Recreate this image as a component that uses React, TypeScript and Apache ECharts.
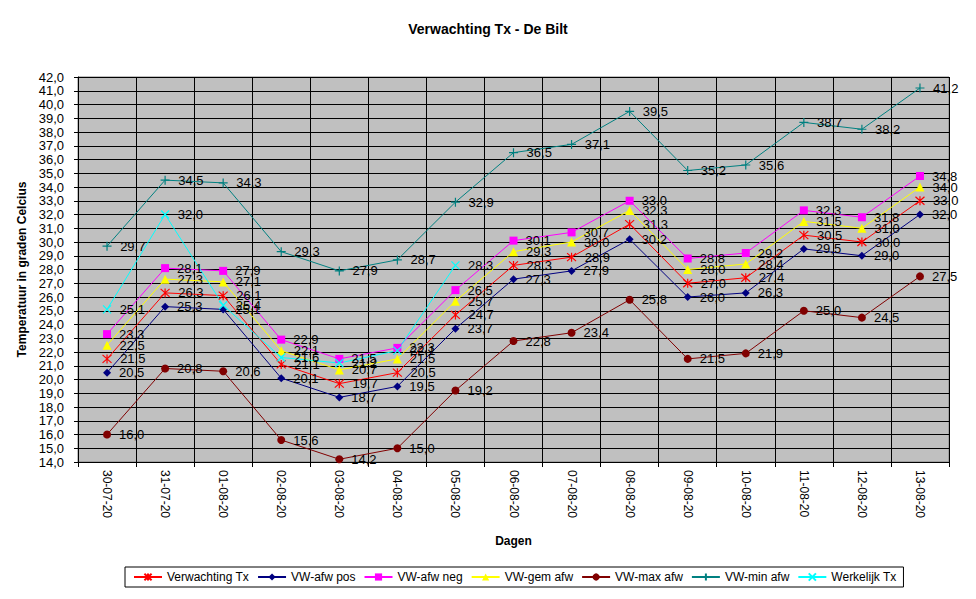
import React, { useEffect, useRef } from "react";
import * as echarts from "echarts";

const categories = [
  "30-07-20", "31-07-20", "01-08-20", "02-08-20", "03-08-20", "04-08-20", "05-08-20",
  "06-08-20", "07-08-20", "08-08-20", "09-08-20", "10-08-20", "11-08-20", "12-08-20", "13-08-20",
];

const verwachtingTx = [21.5, 26.3, 26.1, 21.1, 19.7, 20.5, 24.7, 28.3, 28.9, 31.3, 27.0, 27.4, 30.5, 30.0, 33.0];
const vwAfwPos = [20.5, 25.3, 25.1, 20.1, 18.7, 19.5, 23.7, 27.3, 27.9, 30.2, 26.0, 26.3, 29.5, 29.0, 32.0];
const vwAfwNeg = [23.3, 28.1, 27.9, 22.9, 21.5, 22.3, 26.5, 30.1, 30.7, 33.0, 28.8, 29.2, 32.3, 31.8, 34.8];
const vwGemAfw = [22.5, 27.3, 27.1, 22.1, 20.7, 21.5, 25.7, 29.3, 30.0, 32.3, 28.0, 28.4, 31.5, 31.0, 34.0];
const vwMaxAfw = [16.0, 20.8, 20.6, 15.6, 14.2, 15.0, 19.2, 22.8, 23.4, 25.8, 21.5, 21.9, 25.0, 24.5, 27.5];
const vwMinAfw = [29.7, 34.5, 34.3, 29.3, 27.9, 28.7, 32.9, 36.5, 37.1, 39.5, 35.2, 35.6, 38.7, 38.2, 41.2];
const werkelijkTx: (number | null)[] = [25.1, 32.0, 25.4, 21.6, 21.2, 22.1, 28.3, null, null, null, null, null, null, null, null];

const FONT = "'Liberation Sans', Arial, sans-serif";

const fmt = (v: number) => v.toFixed(1).replace(".", ",");

const ASTERISK = "path://M0,-5L0,5M-4.5,-4.5L4.5,4.5M-4.5,4.5L4.5,-4.5";
const PLUS = "path://M0,-5L0,5M-5,0L5,0";
const CROSS = "path://M-5,-5L5,5M-5,5L5,-5";

function makeSeries(
  name: string,
  data: (number | null)[],
  color: string,
  symbol: string,
  symbolSize: number,
  stroked: boolean
) {
  return {
    name,
    type: "line",
    data,
    symbol,
    symbolSize,
    showAllSymbol: true,
    connectNulls: false,
    lineStyle: { color, width: 1 },
    itemStyle: stroked
      ? { color, borderColor: color, borderWidth: 1.2 }
      : { color, borderWidth: 0 },
    label: {
      show: true,
      position: "right",
      distance: 8,
      color: "#000",
      fontSize: 13,
      fontFamily: FONT,
      formatter: (p: any) => (p.value == null ? "" : fmt(p.value)),
    },
    emphasis: { disabled: true },
  };
}

export default function App() {
  const ref = useRef<HTMLDivElement>(null);

  useEffect(() => {
    if (!ref.current) return;
    const chart = echarts.init(ref.current, undefined, { renderer: "svg" });
    chart.setOption({
      animation: false,
      backgroundColor: "#fff",
      textStyle: { fontFamily: FONT },
      title: {
        text: "Verwachting Tx - De Bilt",
        left: "center",
        top: 17,
        textStyle: { fontSize: 14, fontWeight: "bold", color: "#000", fontFamily: FONT },
      },
      grid: {
        left: 78,
        right: 27,
        top: 77,
        bottom: 137,
        show: true,
        backgroundColor: "#C0C0C0",
        borderColor: "#808080",
        borderWidth: 1,
      },
      legend: {
        left: 125,
        top: 567,
        width: 900,
        padding: [4, 7, 4, 8],
        borderColor: "#000",
        borderWidth: 1,
        itemWidth: 28,
        itemHeight: 9,
        itemGap: 8,
        textStyle: { fontSize: 12, color: "#000", fontFamily: FONT },
        data: [
          "Verwachting Tx", "VW-afw pos", "VW-afw neg", "VW-gem afw",
          "VW-max afw", "VW-min afw", "Werkelijk Tx",
        ],
      },
      xAxis: {
        type: "category",
        data: categories,
        boundaryGap: true,
        name: "Dagen",
        nameLocation: "middle",
        nameGap: 73,
        nameTextStyle: { fontSize: 12, fontWeight: "bold", color: "#000", fontFamily: FONT },
        axisLine: { lineStyle: { color: "#000", width: 1 } },
        axisTick: { show: true, alignWithLabel: false, length: 5, lineStyle: { color: "#000" } },
        axisLabel: {
          rotate: -90,
          color: "#000",
          fontSize: 12,
          fontFamily: FONT,
          margin: 8,
          interval: 0,
        },
        splitLine: { show: true, lineStyle: { color: "#000", width: 1 } },
      },
      yAxis: {
        type: "value",
        min: 14,
        max: 42,
        interval: 1,
        name: "Temperatuur in graden Celcius",
        nameLocation: "middle",
        nameRotate: 90,
        nameGap: 48,
        nameTextStyle: { fontSize: 12, fontWeight: "bold", color: "#000", fontFamily: FONT },
        axisLine: { show: true, lineStyle: { color: "#000", width: 1 } },
        axisTick: { show: true, length: 4, lineStyle: { color: "#000" } },
        axisLabel: {
          color: "#000",
          fontSize: 13,
          fontFamily: FONT,
          margin: 14,
          formatter: (v: number) => fmt(v),
        },
        splitLine: { show: true, lineStyle: { color: "#000", width: 1 } },
      },
      series: [
        makeSeries("Verwachting Tx", verwachtingTx, "#FF0000", ASTERISK, 9, true),
        makeSeries("VW-afw pos", vwAfwPos, "#000080", "diamond", 8, false),
        makeSeries("VW-afw neg", vwAfwNeg, "#FF00FF", "rect", 8, false),
        makeSeries("VW-gem afw", vwGemAfw, "#FFFF00", "triangle", 9, false),
        makeSeries("VW-max afw", vwMaxAfw, "#800000", "circle", 8, false),
        makeSeries("VW-min afw", vwMinAfw, "#008080", PLUS, 9, true),
        makeSeries("Werkelijk Tx", werkelijkTx, "#00FFFF", CROSS, 8, true),
      ],
    });
    return () => chart.dispose();
  }, []);

  return (
    <div
      ref={ref}
      style={{ position: "fixed", left: 0, top: 0, width: 976, height: 599 }}
    />
  );
}
